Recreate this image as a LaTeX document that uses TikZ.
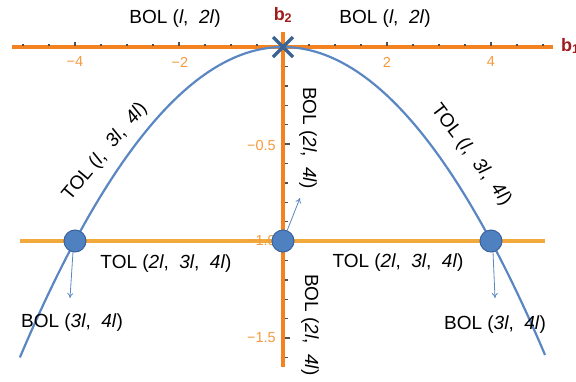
\documentclass[tikz,border=0pt]{standalone}
\usepackage{fontspec}
\setmainfont{Liberation Sans}
\usetikzlibrary{arrows.meta}
\definecolor{axorange}{HTML}{F58220}
\definecolor{lineorange}{HTML}{F2A93B}
\definecolor{numorange}{HTML}{F59A3E}
\definecolor{curveblue}{HTML}{5A86C2}
\definecolor{dotblue}{HTML}{4F80C0}
\definecolor{dotedge}{HTML}{3A629C}
\definecolor{crossblue}{HTML}{3A6496}
\definecolor{bred}{HTML}{A01C1C}
\definecolor{tickgray}{HTML}{505050}
\newcommand{\myit}[1]{\textit{#1}}
\begin{document}
\begin{tikzpicture}[x=1pt,y=-1pt,
  lab/.style={font=\fontsize{19}{21}\selectfont, inner sep=0pt},
  num/.style={font=\fontsize{14.5}{16}\selectfont, text=numorange, inner sep=0pt},
  bname/.style={font=\fontsize{18}{20}\selectfont\bfseries, text=bred, inner sep=0pt},
  dotnode/.style={circle, fill=dotblue, draw=dotedge, line width=1pt, minimum size=22pt, inner sep=0pt},
  arr/.style={draw=curveblue, line width=0.8pt, -{To[length=5pt,width=6pt]}},
  axis/.style={draw=axorange, line width=3.5pt},
  tick/.style={draw=tickgray, line width=1.4pt}
]
\clip (0,0) rectangle (576,381);
\useasboundingbox (0,0) rectangle (576,381);
% line y = -1
\coordinate (hl1) at (20,241);
\coordinate (hl2) at (545,241);
\draw[draw=lineorange, line width=3.5pt] (hl1) -- (hl2);
% axes
\coordinate (xa1) at (12,47);
\coordinate (xa2) at (553,47);
\coordinate (ya1) at (283,32);
\coordinate (ya2) at (283,367);
\draw[axis] (xa1) -- (xa2);
\draw[axis] (ya1) -- (ya2);
% ticks horizontal
\foreach \t in {-5,-4.5,...,5.1}{
  \pgfmathsetmacro{\px}{283+52*\t}
  \draw[tick] (\px,45.5) -- (\px,43.5);
}
\foreach \t in {-4,-2,2,4}{
  \pgfmathsetmacro{\px}{283+52*\t}
  \draw[tick] (\px,45.5) -- (\px,42);
}
% ticks vertical
\foreach \t in {1,...,16}{
  \pgfmathsetmacro{\py}{47+19.4*\t}
  \draw[tick] (285,\py) -- (287.5,\py);
}
\foreach \t in {5,10,15}{
  \pgfmathsetmacro{\py}{47+19.4*\t}
  \draw[tick] (285,\py) -- (289.5,\py);
}
% axis numbers
\node[num] (nm4) at (75,62) {−4};
\node[num] (nm2) at (180,62) {−2};
\node[num] (np2) at (387,62) {2};
\node[num] (np4) at (491,62) {4};
\node[num, anchor=east] (nv05) at (276,146) {−0.5};
\node[num, anchor=east] (nv10) at (276,241) {−1.0};
\node[num, anchor=east] (nv15) at (276,338) {−1.5};
% curve
\draw[draw=curveblue, line width=2.2pt] plot[domain=-5.06:5.04, samples=120, smooth] ({283+52*\x},{47+194*\x*\x/16});
% arrows endpoints
\coordinate (aL) at (70,298);
\coordinate (aC) at (300,198);
\coordinate (aR) at (495,298);
% dots
\node[dotnode] (pL) at (75,241) {};
\node[dotnode] (pC) at (283,241) {};
\node[dotnode] (pR) at (491,241) {};
\draw[arr] (pL.center) ++(-2,11) -- (aL);
\draw[arr] (pC) -- (aC);
\draw[arr] (pR.center) ++(2,11) -- (aR);
% cross
\coordinate (o) at (283,47);
\draw[draw=crossblue, line width=3.5pt] (273,37) -- (293,57) (273,57) -- (293,37);
% axis names
\node[bname] (b2) at (283,15) {b\textsubscript{2}};
\node[bname, anchor=west] (b1) at (561,46) {b\textsubscript{1}};
% labels
\node[lab] (t1) at (175,19) {BOL (\myit{l},\ \ \myit{2l})};
\node[lab] (t2) at (385,19) {BOL (\myit{l},\ \ \myit{2l})};
\node[lab, rotate=50] (tl) at (105,152) {TOL (\myit{l},\ \ \myit{3l},\ \ \myit{4l})};
\node[lab, rotate=-53] (tr) at (471,155) {TOL (\myit{l},\ \ \myit{3l},\ \ \myit{4l})};
\node[lab, rotate=-90] (vc) at (308,138) {BOL (\myit{2l},\ \ \myit{4l})};
\node[lab, rotate=-90] (vb) at (310,325) {BOL (\myit{2l},\ \ \myit{4l})};
\node[lab] (ml) at (166,264) {TOL (\myit{2l},\ \ \myit{3l},\ \ \myit{4l})};
\node[lab] (mr) at (398,263) {TOL (\myit{2l},\ \ \myit{3l},\ \ \myit{4l})};
\node[lab] (bl) at (72,323) {BOL (\myit{3l},\ \ \myit{4l})};
\node[lab] (br) at (495,325) {BOL (\myit{3l},\ \ \myit{4l})};
\end{tikzpicture}
\end{document}
